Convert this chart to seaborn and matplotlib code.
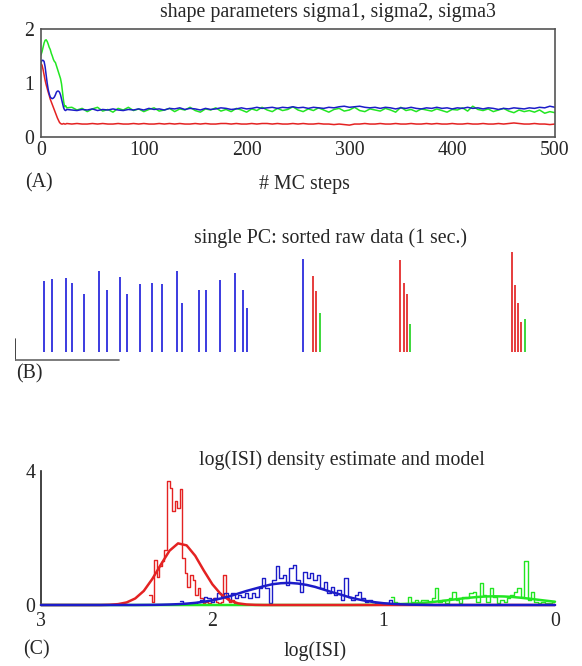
import numpy as np
import pandas as pd
import matplotlib
matplotlib.use("Agg")
import matplotlib.pyplot as plt
import seaborn as sns

# ---- (A) MC traces of the shape parameters ----
steps = list(range(0, 26)) + list(range(30, 501, 5))
sigma_green = [1.52, 1.58, 1.66, 1.74, 1.79, 1.80, 1.77, 1.72, 1.66, 1.62, 1.55, 1.50, 1.44,
               1.40, 1.38, 1.32, 1.26, 1.20, 1.14, 1.08, 0.98, 0.82, 0.66, 0.56, 0.58, 0.54,
               0.55, 0.50, 0.53, 0.47, 0.52, 0.55, 0.48, 0.51, 0.46, 0.53,
               0.50, 0.55, 0.49, 0.52, 0.47, 0.51, 0.54, 0.48, 0.50, 0.53,
               0.47, 0.52, 0.50, 0.55, 0.49, 0.46, 0.52, 0.50, 0.54, 0.48,
               0.51, 0.47, 0.53, 0.50, 0.46, 0.52, 0.49, 0.55, 0.50, 0.47,
               0.53, 0.49, 0.51, 0.56, 0.50, 0.47, 0.52, 0.49, 0.54, 0.50,
               0.46, 0.51, 0.53, 0.48, 0.50, 0.55, 0.49, 0.47, 0.52, 0.50,
               0.48, 0.53, 0.50, 0.46, 0.55, 0.49, 0.51, 0.47, 0.52, 0.50,
               0.48, 0.52, 0.49, 0.46, 0.51, 0.50, 0.54, 0.48, 0.57, 0.51,
               0.49, 0.52, 0.47, 0.50, 0.53, 0.48, 0.45, 0.50, 0.47, 0.49,
               0.46, 0.50, 0.44, 0.47, 0.45]
sigma_blue = [1.38, 1.42, 1.42, 1.40, 1.30, 1.15, 1.00, 0.88, 0.80, 0.74, 0.72, 0.71, 0.72,
              0.74, 0.78, 0.83, 0.85, 0.85, 0.83, 0.78, 0.70, 0.62, 0.54, 0.50, 0.49, 0.51,
              0.50, 0.49, 0.51, 0.50, 0.52, 0.49, 0.51, 0.50, 0.52, 0.50,
              0.49, 0.51, 0.50, 0.52, 0.50, 0.53, 0.51, 0.52, 0.50, 0.53,
              0.52, 0.54, 0.51, 0.53, 0.52, 0.50, 0.53, 0.51, 0.52, 0.54,
              0.53, 0.51, 0.52, 0.54, 0.52, 0.53, 0.55, 0.53, 0.54, 0.55,
              0.53, 0.55, 0.54, 0.56, 0.54, 0.55, 0.53, 0.55, 0.54, 0.53,
              0.55, 0.54, 0.56, 0.57, 0.55, 0.56, 0.57, 0.55, 0.54, 0.55,
              0.53, 0.55, 0.54, 0.52, 0.54, 0.53, 0.55, 0.53, 0.52, 0.54,
              0.53, 0.55, 0.53, 0.54, 0.52, 0.54, 0.53, 0.55, 0.53, 0.54,
              0.52, 0.54, 0.53, 0.51, 0.53, 0.52, 0.54, 0.53, 0.52, 0.54,
              0.53, 0.55, 0.54, 0.57, 0.55]
sigma_red = [1.36, 1.33, 1.25, 1.15, 1.05, 0.97, 0.90, 0.83, 0.77, 0.70, 0.65, 0.60, 0.55,
             0.50, 0.45, 0.40, 0.35, 0.31, 0.27, 0.25, 0.24, 0.24, 0.25, 0.24, 0.24, 0.25,
             0.24, 0.25, 0.24, 0.24, 0.25, 0.24, 0.25, 0.24, 0.24, 0.25,
             0.24, 0.24, 0.25, 0.24, 0.25, 0.24, 0.24, 0.25, 0.24, 0.25,
             0.24, 0.25, 0.24, 0.24, 0.25, 0.24, 0.25, 0.24, 0.24, 0.25,
             0.25, 0.24, 0.25, 0.24, 0.24, 0.25, 0.24, 0.25, 0.25, 0.24,
             0.25, 0.24, 0.24, 0.25, 0.24, 0.25, 0.24, 0.24, 0.25, 0.24,
             0.24, 0.23, 0.24, 0.23, 0.22, 0.24, 0.24, 0.25, 0.24, 0.24,
             0.25, 0.24, 0.24, 0.25, 0.24, 0.24, 0.25, 0.24, 0.24, 0.25,
             0.24, 0.25, 0.24, 0.24, 0.25, 0.24, 0.24, 0.25, 0.24, 0.24,
             0.25, 0.24, 0.24, 0.25, 0.24, 0.25, 0.26, 0.25, 0.24, 0.24,
             0.25, 0.24, 0.24, 0.23, 0.24]

# ---- (B) sorted spikes, 1 sec: time (ms), amplitude, unit ----
spike_times = [51.3, 65.2, 91.1, 101.8, 123.2, 150.5, 163.8, 187.1, 199.8, 222.5,
               243.8, 261.8, 288.4, 297.7, 327.7, 341.1, 366.3, 392.3, 406.3, 414.3,
               513.6, 531.6, 538.2, 544.8, 687.5, 694.1, 700.2, 705.5,
               887.5, 893.4, 898.0, 903.4, 910.7]
spike_amps = [71.3, 72.7, 74.0, 69.0, 58.0, 80.7, 62.3, 75.3, 58.3, 68.3,
              69.0, 67.7, 80.7, 48.7, 62.0, 62.0, 72.3, 79.3, 62.3, 44.0,
              93.0, 76.3, 61.0, 38.7, 92.0, 69.3, 57.7, 28.3,
              99.7, 67.0, 49.0, 29.7, 33.0]
spike_units = ["b"] * 21 + ["r", "r", "g", "r", "r", "r", "g", "r", "r", "r", "r", "g"]

# ---- (C) log(ISI) histograms (bins run downward from start) ----
red_start, red_width = 2.37, 0.015
red_hist = [0.3, 0.1, 1.35, 0.85, 1.15, 1.3, 1.65, 3.7, 3.5, 2.8,
            3.1, 2.9, 3.45, 1.4, 0.95, 0.55, 0.9, 0.75, 0.3, 0.5,
            0.2, 0.05, 0.1, 0.05, 0.15, 0.2, 0.1, 0.05, 0.1, 0.9,
            0.2, 0.1, 0.15, 0.05]
blue_start, blue_width = 2.19, 0.02
blue_hist = [0.13, 0.0, 0.0, 0.0, 0.0, 0.1,
             0.15, 0.25, 0.2, 0.1, 0.2, 0.35, 0.27, 0.35, 0.15, 0.35,
             0.2, 0.3, 0.25, 0.35, 0.2, 0.35, 0.25, 0.5, 0.8, 0.5,
             0.05, 0.75, 1.15, 0.8, 0.9, 0.6, 1.1, 1.2, 0.75, 0.4,
             1.0, 0.8, 0.95, 0.75, 0.9, 0.5, 0.7, 0.35, 0.55, 0.3,
             0.45, 0.15, 0.8, 0.25, 0.15, 0.3, 0.4, 0.2, 0.1, 0.15,
             0.1, 0.07, 0.05, 0.0, 0.07, 0.15, 0.05, 0.05, 0.0]
green_start, green_width = 0.96, 0.02
green_hist = [0.25, 0.1, 0.05, 0.05, 0.05, 0.25, 0.1, 0.15, 0.1, 0.15,
              0.15, 0.1, 0.2, 0.5, 0.1, 0.15, 0.05, 0.2, 0.4, 0.15,
              0.05, 0.25, 0.2, 0.35, 0.4, 0.1, 0.65, 0.3, 0.1, 0.5,
              0.25, 0.05, 0.15, 0.1, 0.2, 0.3, 0.4, 0.5, 0.25, 1.3,
              0.15, 0.4, 0.1, 0.05, 0.1, 0.05, 0.07, 0.1]

# model curves, read at log(ISI) = 0.00, 0.05, ..., 3.00
model_x = np.round(np.arange(61) * 0.05, 2)
model_red = [0.0] * 35 + [0.004, 0.016, 0.05, 0.14, 0.32, 0.62, 1.03, 1.47, 1.78, 1.84,
                          1.62, 1.21, 0.78, 0.42, 0.195, 0.077, 0.026, 0.007] + [0.0] * 8
model_blue = [0.0] * 15 + [0.003, 0.007, 0.012, 0.02, 0.034, 0.053, 0.082, 0.12, 0.17, 0.23,
                           0.31, 0.38, 0.46, 0.54, 0.60, 0.64, 0.66, 0.65, 0.62, 0.56,
                           0.49, 0.42, 0.34, 0.26, 0.195, 0.14, 0.097, 0.064, 0.041, 0.025,
                           0.015, 0.008, 0.004, 0.002] + [0.0] * 12
model_green = [0.098, 0.127, 0.158, 0.189, 0.217, 0.24, 0.255, 0.26, 0.255, 0.24,
               0.217, 0.189, 0.158, 0.127, 0.098, 0.072, 0.051, 0.035, 0.023, 0.015,
               0.009, 0.005, 0.003, 0.002] + [0.0] * 37

GREEN, BLUE, RED = "#22e622", "#1c1cc8", "#e42222"
SPK = {"b": "#3b3be0", "r": "#e63c3c", "g": "#3cd83c"}
FS = 14.3

sns.set_style("white")
plt.rcParams['font.family'] = ['Liberation Serif', 'DejaVu Serif']
plt.rcParams['font.size'] = FS

W, H = 582, 666
fig = plt.figure(figsize=(W / 100, H / 100), dpi=100)


def px_axes(left, top, right, bottom):
    return fig.add_axes([left / W, 1 - bottom / H, (right - left) / W, (bottom - top) / H])


# ---------- panel A ----------
axA = px_axes(41, 29, 555, 137)
sns.lineplot(x=steps, y=sigma_green, color=GREEN, linewidth=1.1, ax=axA)
sns.lineplot(x=steps, y=sigma_red, color=RED, linewidth=1.1, ax=axA)
sns.lineplot(x=steps, y=sigma_blue, color=BLUE, linewidth=1.1, ax=axA)
axA.set_xlim(0, 500)
axA.set_ylim(0, 2)
axA.set_xticks([0, 100, 200, 300, 400, 500])
axA.set_yticks([0, 1, 2])
for s in axA.spines.values():
    s.set_color("#555555")
    s.set_linewidth(1.2)
axA.tick_params(axis="x", direction="in", length=3, pad=3, labelsize=FS)
axA.tick_params(axis="y", direction="out", length=4, pad=1, labelsize=FS)
axA.set_xlabel("")
fig.text(328 / W, 1 - 13 / H, "shape parameters sigma1, sigma2, sigma3",
         ha="center", va="center", fontsize=FS)
fig.text(25 / W, 1 - 183 / H, "(A)", ha="left", va="center", fontsize=FS)
fig.text(304 / W, 1 - 185 / H, "# MC steps", ha="center", va="center", fontsize=FS)

# ---------- panel B ----------
axB = px_axes(15, 250, 575, 362)
axB.set_xlim(0, 1000)
axB.set_ylim(-10, 102)
axB.axis("off")
for u in ["b", "r", "g"]:
    t = [x for x, k in zip(spike_times, spike_units) if k == u]
    a = [y for y, k in zip(spike_amps, spike_units) if k == u]
    axB.vlines(t, 0, a, color=SPK[u], linewidth=1.4)
axB.plot([0, 0], [-8, 13], color="#222222", linewidth=1.2)
axB.plot([0, 186], [-8, -8], color="#666666", linewidth=1.2)
fig.text(331 / W, 1 - 238 / H, "single PC: sorted raw data (1 sec.)",
         ha="center", va="center", fontsize=FS)
fig.text(16 / W, 1 - 374 / H, "(B)", ha="left", va="center", fontsize=FS)

# ---------- panel C ----------
axC = px_axes(41, 471, 555, 605)


def hist_step(start, width, heights, color):
    n = len(heights)
    edges = (start - width * np.arange(n + 1))[::-1]
    df = pd.DataFrame({"x": (edges[:-1] + edges[1:]) / 2, "w": heights[::-1]})
    sns.histplot(data=df, x="x", weights="w", bins=list(edges), element="step",
                 fill=False, color=color, linewidth=1.0, ax=axC)


hist_step(red_start, red_width, red_hist, RED)
hist_step(blue_start, blue_width, blue_hist, BLUE)
hist_step(green_start, green_width, green_hist, GREEN)
for vals, col in [(model_green, GREEN), (model_red, RED), (model_blue, BLUE)]:
    sns.lineplot(x=model_x, y=vals, color=col, linewidth=1.8, ax=axC,
                 clip_on=False, zorder=4)
axC.set_xlim(3, 0)
axC.set_ylim(0, 4)
axC.set_xticks([3, 2, 1, 0])
axC.set_yticks([0, 4])
axC.set_ylabel("")
axC.set_xlabel("")
sns.despine(ax=axC)
for s in axC.spines.values():
    s.set_color("#222222")
    s.set_linewidth(1.2)
axC.tick_params(axis="x", direction="out", length=5, pad=0, labelsize=FS)
axC.tick_params(axis="y", direction="out", length=3, pad=1, labelsize=FS)
fig.text(342 / W, 1 - 460 / H, "log(ISI) density estimate and model",
         ha="center", va="center", fontsize=FS)
fig.text(23 / W, 1 - 650 / H, "(C)", ha="left", va="center", fontsize=FS)
fig.text(315 / W, 1 - 651 / H, "log(ISI)", ha="center", va="center", fontsize=FS)

fig.savefig("out.png", dpi=100)
